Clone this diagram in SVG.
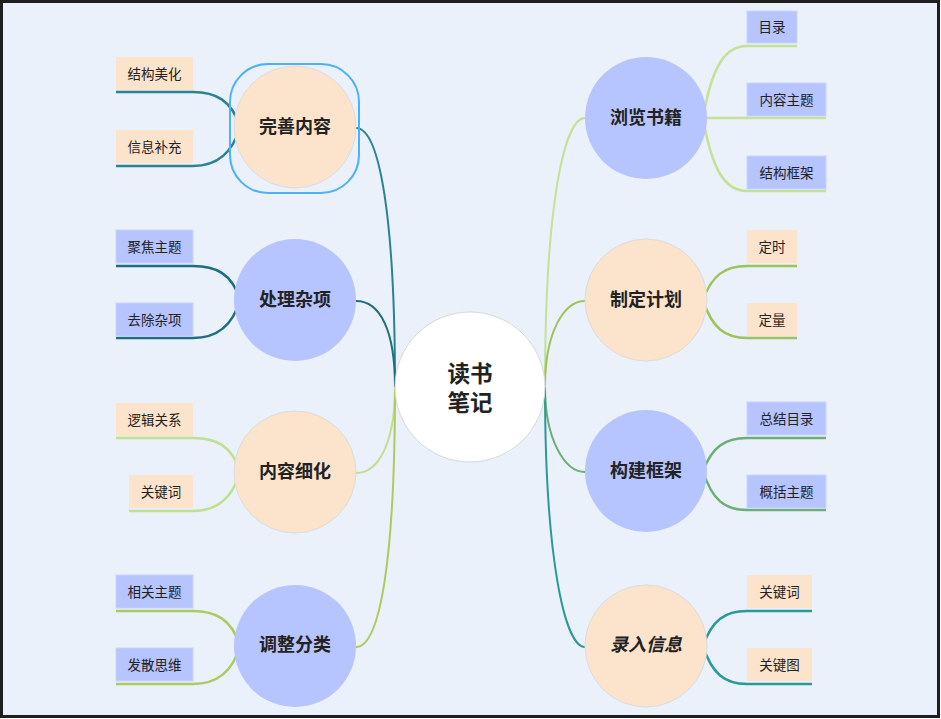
<svg xmlns="http://www.w3.org/2000/svg" width="941" height="719" viewBox="0 0 941 719">
<style>
.bg{fill:#EAF1FA;stroke:#1e1e1e;stroke-width:3}
.c{fill:none;stroke-width:2}
.l{fill:none;stroke-width:2.5}
.lav{fill:#B6C4FF}
.pch{fill:#FCE4CC;stroke:#DCDCDC;stroke-width:1}
.boxl{fill:#B6C4FF;stroke:#CAD4FF;stroke-width:1}
.boxp{fill:#FCE4CC}
.t{font-family:"Noto Sans CJK SC","Noto Sans",sans-serif;fill:#222;text-anchor:middle;dominant-baseline:central}
.lt{font-size:13.5px}
.mt{font-size:18px;font-weight:bold}
.ct{font-size:22.5px;font-weight:bold}
</style>
<rect class="bg" x="1.5" y="1.5" width="937" height="715"/>
<g id="connectors">
  <path class="c" stroke="#2B8293" d="M356,128 C380,128 395,220 395,387"/>
  <path class="c" stroke="#1D6E7F" d="M356,301 C380,301 395,330 395,387"/>
  <path class="c" stroke="#BDE18E" d="M356,473 C380,473 395,440 395,387"/>
  <path class="c" stroke="#A9CC5E" d="M356,647 C380,647 395,560 395,387"/>
  <path class="c" stroke="#C2E296" d="M585,118 C565,118 545,200 545,387"/>
  <path class="c" stroke="#9DC45A" d="M585,301 C565,301 545,330 545,387"/>
  <path class="c" stroke="#6BAE76" d="M585,472 C565,472 545,440 545,387"/>
  <path class="c" stroke="#2A9A97" d="M585,647 C565,647 545,560 545,387"/>
  <path class="l" stroke="#2B8293" d="M240,127 C232,100 215,92 193,92 H116"/>
  <path class="l" stroke="#2B8293" d="M240,127 C232,155 215,166 193,166 H116"/>
  <path class="l" stroke="#1D6E7F" d="M240,300 C232,273 215,266 193,266 H116"/>
  <path class="l" stroke="#1D6E7F" d="M240,300 C232,328 215,338 193,338 H116"/>
  <path class="l" stroke="#BDE18E" d="M240,472 C232,445 215,438 193,438 H116"/>
  <path class="l" stroke="#BDE18E" d="M240,472 C232,500 215,511 193,511 H129"/>
  <path class="l" stroke="#A9CC5E" d="M240,646 C232,619 215,611 193,611 H116"/>
  <path class="l" stroke="#A9CC5E" d="M240,646 C232,674 215,684 193,684 H116"/>
  <path class="l" stroke="#C2E296" d="M703,118 C712,66 725,46 747,46 H797"/>
  <path class="l" stroke="#C2E296" d="M703,118 H826"/>
  <path class="l" stroke="#C2E296" d="M703,118 C712,170 725,191 747,191 H826"/>
  <path class="l" stroke="#9DC45A" d="M703,300 C712,275 725,266 747,266 H797"/>
  <path class="l" stroke="#9DC45A" d="M703,300 C712,328 725,338 747,338 H797"/>
  <path class="l" stroke="#6BAE76" d="M703,471 C712,447 725,438 747,438 H826"/>
  <path class="l" stroke="#6BAE76" d="M703,471 C712,500 725,510 747,510 H826"/>
  <path class="l" stroke="#2A9A97" d="M703,646 C712,620 725,611 747,611 H812"/>
  <path class="l" stroke="#2A9A97" d="M703,646 C712,674 725,684 747,684 H812"/>
</g>
<g id="center">
  <circle cx="470" cy="387" r="75" fill="#FFFFFF" stroke="#D8D8D8" stroke-width="1"/>
  <text class="t ct" x="470" y="372">读书</text>
  <text class="t ct" x="470" y="401">笔记</text>
</g>
<g id="n-wanshan">
  <rect x="230" y="64" width="129" height="129" rx="38" fill="none" stroke="#4DB1F7" stroke-width="2"/>
  <circle class="pch" cx="295" cy="127" r="61"/>
  <text class="t mt" x="295" y="125">完善内容</text>
</g>
<g id="n-chuli">
  <circle class="lav" cx="295" cy="300" r="61"/>
  <text class="t mt" x="295" y="298">处理杂项</text>
</g>
<g id="n-neirong">
  <circle class="pch" cx="295" cy="472" r="61"/>
  <text class="t mt" x="295" y="470">内容细化</text>
</g>
<g id="n-tiaozheng">
  <circle class="lav" cx="295" cy="646" r="61"/>
  <text class="t mt" x="295" y="643">调整分类</text>
</g>
<g id="n-liulan">
  <circle class="lav" cx="646" cy="118" r="61"/>
  <text class="t mt" x="646" y="116">浏览书籍</text>
</g>
<g id="n-zhiding">
  <circle class="pch" cx="646" cy="300" r="61"/>
  <text class="t mt" x="646" y="298">制定计划</text>
</g>
<g id="n-goujian">
  <circle class="lav" cx="646" cy="471" r="61"/>
  <text class="t mt" x="646" y="469">构建框架</text>
</g>
<g id="n-luru">
  <circle class="pch" cx="646" cy="646" r="61"/>
  <text class="t mt" x="646" y="643" font-style="italic">录入信息</text>
</g>
<g id="leaf-jiegoumeihua"><rect class="boxp" x="116" y="57" width="77" height="33"/><text class="t lt" x="154.5" y="72.5">结构美化</text></g>
<g id="leaf-xinxibuchong"><rect class="boxp" x="116" y="130" width="77" height="33"/><text class="t lt" x="154.5" y="145.5">信息补充</text></g>
<g id="leaf-jujiaozhuti"><rect class="boxl" x="116" y="230" width="77" height="33"/><text class="t lt" x="154.5" y="245.5">聚焦主题</text></g>
<g id="leaf-quchuzaxiang"><rect class="boxl" x="116" y="303" width="77" height="33"/><text class="t lt" x="154.5" y="318.5">去除杂项</text></g>
<g id="leaf-luojiguanxi"><rect class="boxp" x="116" y="403" width="77" height="33"/><text class="t lt" x="154.5" y="418.5">逻辑关系</text></g>
<g id="leaf-guanjianci-l"><rect class="boxp" x="129" y="475" width="64" height="33"/><text class="t lt" x="161" y="490.5">关键词</text></g>
<g id="leaf-xiangguanzhuti"><rect class="boxl" x="116" y="575" width="77" height="33"/><text class="t lt" x="154.5" y="590.5">相关主题</text></g>
<g id="leaf-fasansiwei"><rect class="boxl" x="116" y="648" width="77" height="33"/><text class="t lt" x="154.5" y="663.5">发散思维</text></g>
<g id="leaf-mulu"><rect class="boxl" x="747" y="11" width="50" height="32"/><text class="t lt" x="772" y="25.5">目录</text></g>
<g id="leaf-neirongzhuti"><rect class="boxl" x="747" y="83" width="79" height="33"/><text class="t lt" x="786.5" y="98.5">内容主题</text></g>
<g id="leaf-jiegoukuangjia"><rect class="boxl" x="747" y="156" width="79" height="33"/><text class="t lt" x="786.5" y="171.5">结构框架</text></g>
<g id="leaf-dingshi"><rect class="boxp" x="747" y="230" width="50" height="33"/><text class="t lt" x="772" y="245.5">定时</text></g>
<g id="leaf-dingliang"><rect class="boxp" x="747" y="303" width="50" height="33"/><text class="t lt" x="772" y="318.5">定量</text></g>
<g id="leaf-zongjiemulu"><rect class="boxl" x="747" y="402" width="79" height="33"/><text class="t lt" x="786.5" y="417.5">总结目录</text></g>
<g id="leaf-gaikuozhuti"><rect class="boxl" x="747" y="475" width="79" height="33"/><text class="t lt" x="786.5" y="490.5">概括主题</text></g>
<g id="leaf-guanjianci-r"><rect class="boxp" x="747" y="575" width="65" height="33"/><text class="t lt" x="779.5" y="590.5">关键词</text></g>
<g id="leaf-guanjiantu"><rect class="boxp" x="747" y="648" width="65" height="33"/><text class="t lt" x="779.5" y="663.5">关键图</text></g>
</svg>
